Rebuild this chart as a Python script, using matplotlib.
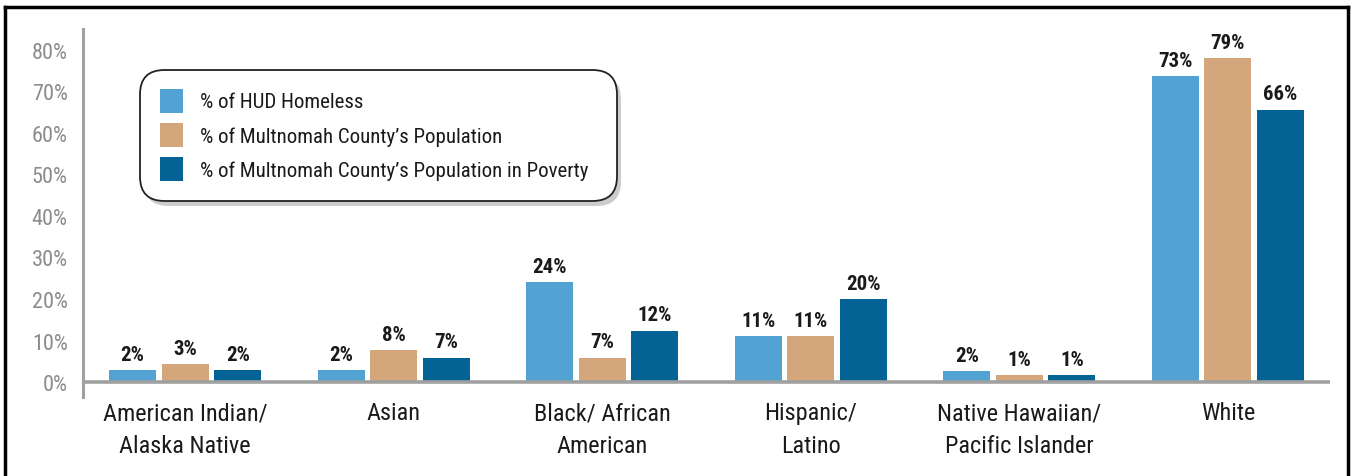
import matplotlib
matplotlib.use("Agg")
import matplotlib.pyplot as plt
from matplotlib import font_manager
from matplotlib.patches import FancyBboxPatch, Rectangle
from matplotlib.lines import Line2D
import numpy as np

# ---------------- data ----------------
categories = ["American Indian/\nAlaska Native", "Asian", "Black/ African\nAmerican",
              "Hispanic/\nLatino", "Native Hawaiian/\nPacific Islander", "White"]
series_names = ["% of HUD Homeless",
                "% of Multnomah County\u2019s Population",
                "% of Multnomah County\u2019s Population in Poverty"]
# bar heights as drawn (percent)
hud_homeless = [2.8, 2.8, 24.0, 11.0, 2.6, 73.6]
county_pop = [4.3, 7.7, 5.9, 11.0, 1.6, 77.9]
county_poverty = [2.8, 5.9, 12.4, 19.9, 1.6, 65.6]
# printed value labels
hud_labels = ["2%", "2%", "24%", "11%", "2%", "73%"]
pop_labels = ["3%", "8%", "7%", "11%", "1%", "79%"]
pov_labels = ["2%", "7%", "12%", "20%", "1%", "66%"]
yticks = [0, 10, 20, 30, 40, 50, 60, 70, 80]
ytick_labels = ["0%", "10%", "20%", "30%", "40%", "50%", "60%", "70%", "80%"]

colors = ["#52A2D4", "#D3A67B", "#036394"]

# ---------------- font ----------------
names = {f.name for f in font_manager.fontManager.ttflist}
family = "DejaVu Sans"
for cand in ["Roboto Condensed", "Liberation Sans Narrow", "Open Sans Condensed",
             "Noto Sans Condensed", "Liberation Sans"]:
    if cand in names:
        family = cand
        break
plt.rcParams["font.family"] = [family, "DejaVu Sans"]

W, H = 1354, 477
fig = plt.figure(figsize=(W / 100, H / 100), dpi=100)
ax = fig.add_axes([83 / W, 1 - 398 / H, (1330 - 83) / W, (398 - 30) / H])

x = np.arange(len(categories))
bw = 0.226
off = 0.252
all_vals = [hud_homeless, county_pop, county_poverty]
all_labels = [hud_labels, pop_labels, pov_labels]
for i, (vals, labs) in enumerate(zip(all_vals, all_labels)):
    xs = x + (i - 1) * off
    ax.bar(xs, vals, width=bw, color=colors[i], zorder=2)
    for xi, v, t in zip(xs, vals, labs):
        ax.annotate(t, (xi, v), xytext=(0, 4.5), textcoords="offset points",
                    ha="center", va="bottom", fontsize=15, fontweight="bold",
                    color="#1a1a1a")

ax.set_xlim(-0.49, len(categories) - 0.51)
ax.set_ylim(-3.6, 85)
ax.set_yticks(yticks)
ax.set_yticklabels(ytick_labels, fontsize=16, color="#8C8C8C")
ax.tick_params(axis="y", length=0, pad=11)
ax.set_xticks(x)
ax.set_xticklabels(categories, fontsize=17.5, color="#1a1a1a", linespacing=1.55)
ax.tick_params(axis="x", length=0, pad=3)
for s in ["top", "right", "bottom"]:
    ax.spines[s].set_visible(False)
ax.spines["left"].set_color("#A0A0A0")
ax.spines["left"].set_linewidth(2.2)
ax.axhline(0, color="#A0A0A0", lw=2.6, zorder=3)

# ---------------- legend ----------------
lx0, ly0, lx1, ly1 = 140, 71, 617, 202
def fx(px):
    return px / W
def fy(py):
    return 1 - py / H
shadow = FancyBboxPatch((fx(lx0 + 4), fy(ly1 + 5)), fx(lx1 - lx0), (ly1 - ly0) / H,
                        boxstyle="round,pad=0,rounding_size=0.018",
                        mutation_aspect=W / H,
                        transform=fig.transFigure, facecolor="#9a9a9a",
                        edgecolor="none", alpha=0.5, zorder=4)
fig.add_artist(shadow)
frame = FancyBboxPatch((fx(lx0), fy(ly1)), fx(lx1 - lx0), (ly1 - ly0) / H,
                       boxstyle="round,pad=0,rounding_size=0.018",
                       mutation_aspect=W / H,
                       transform=fig.transFigure, facecolor="white",
                       edgecolor="#222222", lw=1.3, zorder=5)
fig.add_artist(frame)
rows = [102, 136, 170]
for i, name in enumerate(series_names):
    cy = rows[i]
    fig.add_artist(Rectangle((fx(160), fy(cy + 12)), 23 / W, 24 / H,
                             transform=fig.transFigure, facecolor=colors[i],
                             edgecolor="none", zorder=6))
    fig.text(fx(200), fy(cy + 1), name, fontsize=15, va="center", ha="left",
             color="#1a1a1a", zorder=7)

# ---------------- outer frame ----------------
for (xa, ya) in [((5, 5), (477, 8)), ((5, 1348), (8, 8)), ((1348, 1348), (8, 477))]:
    fig.add_artist(Line2D([fx(v) for v in xa], [fy(v) for v in ya],
                          transform=fig.transFigure, color="black", lw=2.5))

fig.savefig("out.png", dpi=100)
